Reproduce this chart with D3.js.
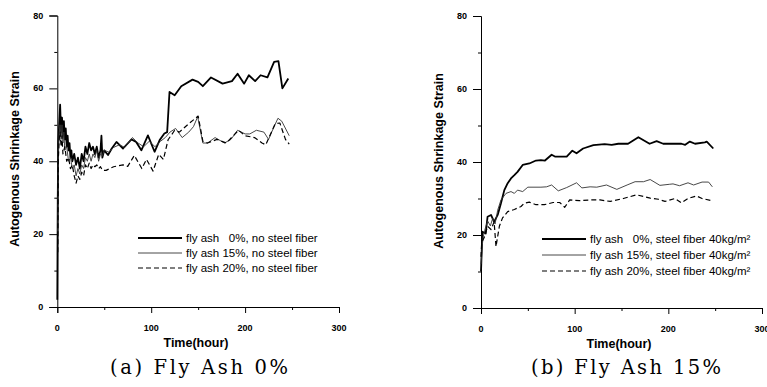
<!DOCTYPE html>
<html lang="en">
<head>
<meta charset="UTF-8">
<title>Autogenous Shrinkage Strain</title>
<script src="https://cdnjs.cloudflare.com/ajax/libs/d3/7.8.2/d3.min.js"></script>
<style>
  body { margin: 0; background: #fff; }
  svg { display: block; }
  .tick-label { font-family: Arial, "Liberation Sans", sans-serif; font-weight: bold; font-size: 9px; }
  .axis-title { font-family: Arial, "Liberation Sans", sans-serif; font-weight: bold; }
  .legend-text { font-family: Arial, "Liberation Sans", sans-serif; font-size: 11.5px; white-space: pre; }
  .caption { font-family: "DejaVu Serif", "Liberation Serif", serif; font-size: 19.5px; }
</style>
</head>
<body>
<div id="chart"></div>
<script>
// tick values shared by both panels
const xTicks = [0, 100, 200, 300];
const xMinor = [50, 150, 250];
const yTicks = [0, 20, 40, 60, 80];
const yMinor = [10, 30, 50, 70];

// (a) fly ash 0%, no steel fiber  -- [time(hour), strain]
const a_fa0 = [
  [0, 2], [0.5, 30], [1, 45], [2, 50], [3, 55.5], [4, 48], [5, 52], [6, 47], [7, 51], [8, 46],
  [9, 49], [10, 44], [11, 47], [12, 43], [13, 45], [14, 41], [15, 43], [16, 40], [18, 42],
  [20, 39], [22, 41], [24, 38], [26, 42], [28, 40], [30, 44], [32, 42], [34, 45], [36, 43],
  [38, 44], [40, 42], [42, 44], [44, 41], [46, 43], [47, 47], [48, 41], [50, 43], [54, 41.7],
  [58, 43.5], [63, 45.3], [70, 43.5], [79, 46], [84, 45.3], [89.5, 43], [96.5, 47.1],
  [103.6, 42.6], [109, 45.8], [114, 47.6], [117, 48], [119.5, 59], [125, 58.1], [132, 60.6],
  [144, 62.4], [150, 61.8], [155, 60.6], [163.7, 63], [176, 61.3], [186, 62], [192, 64],
  [199, 61.3], [204, 63.6], [210.7, 62], [216.5, 63.6], [223.8, 63], [230.9, 67.3],
  [235.5, 67.5], [239.7, 60], [246, 62.7]
];
// (a) fly ash 15%, no steel fiber
const a_fa15 = [
  [0.5, 20], [1, 42], [2, 48], [3, 50], [4, 46], [5, 50], [6, 45], [7, 48], [8, 43], [10, 44],
  [12, 40], [14, 41], [16, 38], [18, 39], [20, 36], [22, 38], [24, 36.5], [26, 39], [28, 38],
  [30, 41], [32, 40], [34, 42], [36, 40], [38, 42], [40, 41], [42, 43], [44, 40], [46, 42],
  [48, 41.5], [50, 43], [55, 42.5], [60, 43.8], [66, 44.5], [72, 43.8], [80, 46.5], [86, 45],
  [92, 44], [98, 45.5], [104, 44], [110, 45.5], [115, 46.5], [120, 48], [126, 49], [133, 46.5],
  [140, 48], [145, 49.5], [149.5, 52.2], [155, 45], [160, 45], [168, 46.5], [178, 45],
  [185, 46], [192, 48.5], [200, 47.5], [205, 47.5], [212, 48.5], [220, 48], [225, 46],
  [230, 49], [235, 51.8], [239, 51], [247, 47]
];
// (a) fly ash 20%, no steel fiber
const a_fa20 = [
  [0.5, 15], [1, 40], [2, 46], [3, 48], [4, 44], [5, 47], [6, 42], [8, 44], [10, 40], [12, 41],
  [14, 38], [16, 39], [18, 36], [20, 34], [22, 36], [24, 35], [26, 37], [28, 36], [30, 39],
  [32, 38], [34, 39.5], [36, 38], [38, 39], [40, 38.5], [42, 39], [44, 38], [46, 38.5],
  [48, 37.5], [52, 37.5], [60, 38.5], [70, 39], [75, 38.6], [82, 41.6], [90, 38], [95, 40.5],
  [102, 37.3], [108, 41.9], [113, 40.5], [118, 45.9], [125, 48.5], [130, 48], [140, 50.3],
  [150, 52.4], [155, 45.5], [160, 45], [170, 46], [180, 45], [193, 48.5], [200, 47],
  [210, 46.5], [218, 45], [222, 44.5], [232, 50.3], [237, 50.5], [243, 46], [247, 44.7]
];

// (b) fly ash 0%, steel fiber 40kg/m3
const b_fa0 = [
  [0, 10], [1.5, 20.9], [5, 20.4], [7, 25], [10.7, 25.5], [14, 23.6], [17.8, 25.5],
  [21.3, 28.7], [24.9, 32.3], [28.5, 34.2], [32, 35.5], [35.6, 36.4], [39, 37.3], [44.5, 39.2],
  [51.6, 39.6], [58.7, 40.4], [64, 40.5], [68.3, 40.4], [75.4, 42], [78.9, 41.5], [91.5, 41.5],
  [97.5, 43.1], [102, 42.4], [109, 43.7], [120, 44.6], [132, 44.9], [139.5, 44.7], [146.6, 45],
  [157, 45], [168, 46.8], [180, 45], [187.5, 45.7], [194.5, 45], [214, 45], [218, 44.7],
  [223, 45.6], [228.5, 45], [239, 45.4], [241, 45.6], [248, 43.7]
];
// (b) fly ash 15%, steel fiber 40kg/m3
const b_fa15 = [
  [0, 12], [2, 19], [3.9, 21.2], [7, 23.9], [10, 22.5], [12.5, 24.6], [15, 23], [17.8, 26.8],
  [21.3, 29.6], [26.7, 31.4], [32, 31.9], [35.6, 31.4], [39, 32.3], [44.5, 31.9], [50, 33.1],
  [64, 33.1], [70, 33.2], [75.4, 33.7], [82.5, 32.1], [91.5, 33], [102, 34.3], [107.7, 32.9],
  [116.5, 33.2], [123.6, 33.1], [134, 33.7], [145, 32.5], [156, 33.7], [164.5, 34.6],
  [173.5, 34.6], [180.6, 35.2], [191, 33.6], [201.5, 33.9], [205, 34], [212, 33.5],
  [221, 34.3], [227, 33.7], [236, 34.5], [243, 34.5], [247, 33.2]
];
// (b) fly ash 20%, steel fiber 40kg/m3
const b_fa20 = [
  [0, 14], [0.7, 17.8], [3.9, 19.6], [7, 22.4], [10.7, 21.5], [14, 23.6], [16, 16.8],
  [19.6, 22.4], [23, 24.7], [28.5, 26.4], [35.6, 27], [42.7, 27.8], [46.2, 28.7], [51.6, 29],
  [58.7, 28.3], [67.6, 28.3], [77, 28.9], [84, 28.9], [89.4, 27.6], [94.7, 29.6], [105, 29.4],
  [116.5, 29.6], [127, 29.6], [138, 29.2], [152, 30], [166, 31], [180.6, 30.1], [189.4, 29.8],
  [196.5, 29.2], [207, 30], [214, 28.8], [221, 30], [230, 30.7], [236, 30], [245, 29.5]
];

const legendA = ["fly ash   0%, no steel fiber", "fly ash 15%, no steel fiber", "fly ash 20%, no steel fiber"];
const legendB = ["fly ash   0%, steel fiber 40kg/m\u00B2", "fly ash 15%, steel fiber 40kg/m\u00B2", "fly ash 20%, steel fiber 40kg/m\u00B2"];

const styles = [
  { stroke: "#000", width: 1.8, dash: null },
  { stroke: "#333", width: 0.9, dash: null },
  { stroke: "#000", width: 1.2, dash: "5,3" }
];

const svg = d3.select("#chart").append("svg")
  .attr("width", 767)
  .attr("height", 387);

function drawPanel(p) {
  const x = d3.scaleLinear().domain([0, 300]).range(p.xRange);
  const y = d3.scaleLinear().domain([0, 80]).range(p.yRange);
  const g = svg.append("g");

  // axes
  g.append("g")
    .attr("transform", `translate(0,${y(0)})`)
    .call(d3.axisBottom(x).tickValues(xTicks).tickSize(6).tickFormat(""))
    .call(a => a.select(".domain").attr("stroke", "#000").attr("stroke-width", 1));
  g.append("g")
    .attr("transform", `translate(0,${y(0)})`)
    .call(d3.axisBottom(x).tickValues(xMinor).tickSize(3).tickFormat(""))
    .call(a => a.select(".domain").remove());
  g.append("g")
    .attr("transform", `translate(${x(0)},0)`)
    .call(d3.axisLeft(y).tickValues(yTicks).tickSize(8).tickFormat(""))
    .call(a => a.select(".domain").attr("stroke", "#000").attr("stroke-width", 1));
  g.append("g")
    .attr("transform", `translate(${x(0)},0)`)
    .call(d3.axisLeft(y).tickValues(yMinor).tickSize(3).tickFormat(""))
    .call(a => a.select(".domain").remove());
  g.selectAll(".tick line").attr("stroke", "#000");

  // tick labels
  g.selectAll(".xl").data(xTicks).enter().append("text")
    .attr("class", "tick-label")
    .attr("x", d => x(d))
    .attr("y", y(0) + 24)
    .attr("text-anchor", "middle")
    .text(d => d);
  g.selectAll(".yl").data(yTicks).enter().append("text")
    .attr("class", "tick-label")
    .attr("x", x(0) - 14)
    .attr("y", d => y(d) + 3)
    .attr("text-anchor", "end")
    .text(d => d);

  // titles
  g.append("text")
    .attr("class", "axis-title")
    .attr("x", p.xTitleX)
    .attr("y", y(0) + 40)
    .attr("text-anchor", "middle")
    .style("font-size", "12.5px")
    .text("Time(hour)");
  g.append("text")
    .attr("class", "axis-title")
    .attr("transform", `translate(${p.yTitleX},${p.yTitleY}) rotate(-90)`)
    .attr("text-anchor", "middle")
    .style("font-size", "12.5px")
    .text("Autogenous Shrinkage Strain");

  // series
  const line = d3.line().x(d => x(d[0])).y(d => y(d[1]));
  p.series.forEach((s, i) => {
    g.append("path")
      .datum(s)
      .attr("fill", "none")
      .attr("stroke", styles[i].stroke)
      .attr("stroke-width", styles[i].width)
      .attr("stroke-dasharray", styles[i].dash)
      .attr("stroke-linejoin", "round")
      .attr("d", line);
  });

  // legend
  p.legend.forEach((label, i) => {
    const ly = p.legendY + i * p.legendStep;
    g.append("line")
      .attr("x1", p.legendX).attr("x2", p.legendX + 44)
      .attr("y1", ly).attr("y2", ly)
      .attr("stroke", styles[i].stroke)
      .attr("stroke-width", styles[i].width)
      .attr("stroke-dasharray", styles[i].dash);
    g.append("text")
      .attr("class", "legend-text")
      .attr("x", p.legendX + 48)
      .attr("y", ly + 4)
      .text(label);
  });

  // caption
  g.append("text")
    .attr("class", "caption")
    .attr("x", p.capX)
    .attr("y", 374)
    .attr("textLength", p.capLen)
    .attr("lengthAdjust", "spacing")
    .text(p.caption);
}

drawPanel({
  xRange: [57.3, 339], yRange: [307, 15.5],
  xTitleX: 196, yTitleX: 19, yTitleY: 159,
  series: [a_fa0, a_fa15, a_fa20], legend: legendA,
  legendX: 138, legendY: 238, legendStep: 15,
  caption: "(a) Fly Ash 0%", capX: 110, capLen: 178
});

drawPanel({
  xRange: [481, 762], yRange: [308, 16],
  xTitleX: 619, yTitleX: 443, yTitleY: 161,
  series: [b_fa0, b_fa15, b_fa20], legend: legendB,
  legendX: 542, legendY: 239, legendStep: 16,
  caption: "(b) Fly Ash 15%", capX: 531, capLen: 190
});
</script>
</body>
</html>
